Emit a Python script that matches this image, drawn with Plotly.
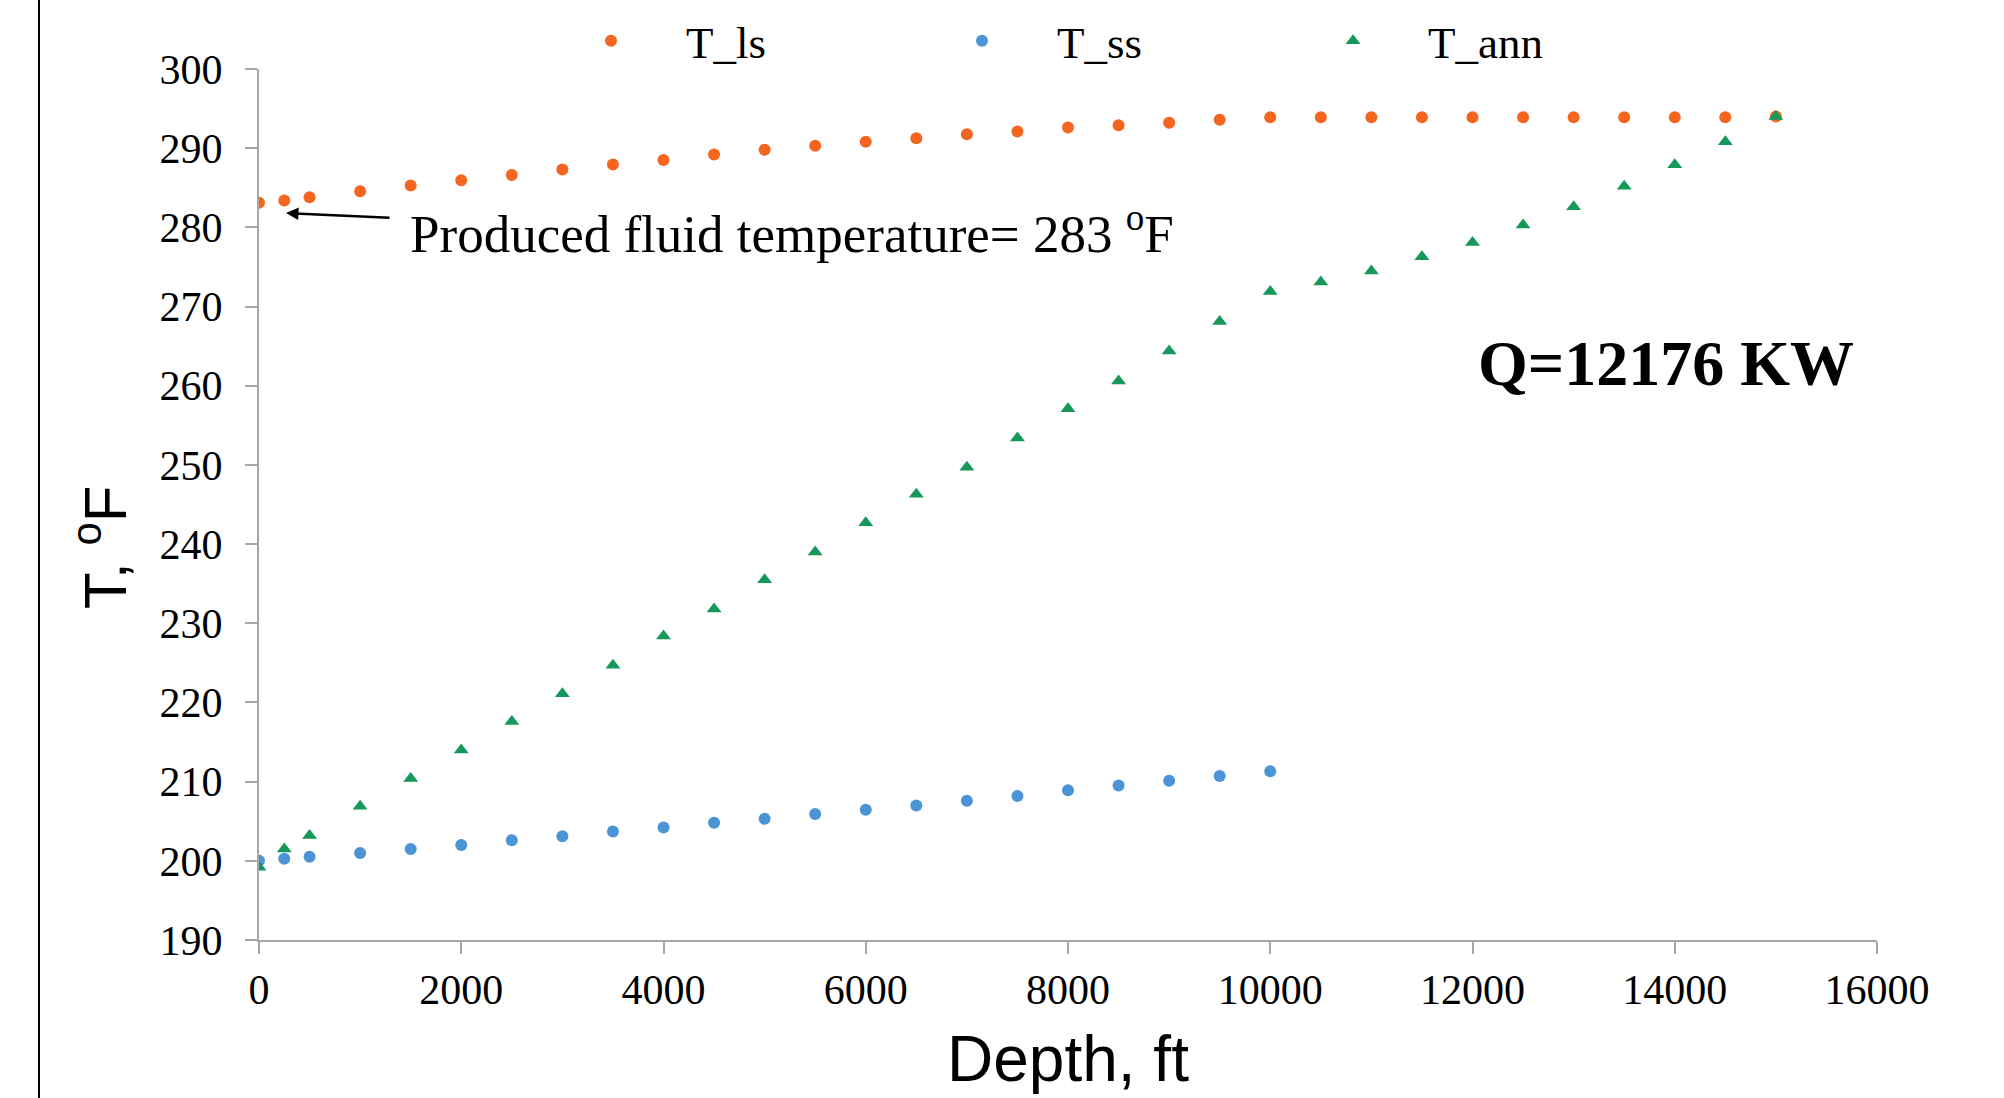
import plotly.graph_objects as go

# ---------------- data ----------------
depth_ls = [0, 250, 500, 1000, 1500, 2000, 2500, 3000, 3500, 4000, 4500, 5000, 5500, 6000,
            6500, 7000, 7500, 8000, 8500, 9000, 9500, 10000, 10500, 11000, 11500, 12000,
            12500, 13000, 13500, 14000, 14500, 15000]
T_ls = [283.1, 283.4, 283.8, 284.55, 285.3, 285.95, 286.6, 287.3, 287.95, 288.5, 289.2, 289.8,
        290.3, 290.8, 291.25, 291.75, 292.1, 292.6, 292.9, 293.2, 293.6, 293.9, 293.9, 293.9,
        293.9, 293.9, 293.9, 293.9, 293.9, 293.9, 293.9, 294.0]

depth_ss = [0, 250, 500, 1000, 1500, 2000, 2500, 3000, 3500, 4000, 4500, 5000, 5500, 6000,
            6500, 7000, 7500, 8000, 8500, 9000, 9500, 10000]
T_ss = [200.0, 200.25, 200.5, 201.0, 201.5, 202.0, 202.6, 203.1, 203.7, 204.2, 204.8, 205.3,
        205.9, 206.45, 207.0, 207.6, 208.2, 208.9, 209.5, 210.1, 210.7, 211.3]

depth_ann = depth_ls
T_ann = [199.2, 201.5, 203.2, 206.9, 210.4, 214.0, 217.6, 221.1, 224.7, 228.4, 231.8, 235.5,
         239.0, 242.7, 246.3, 249.7, 253.4, 257.1, 260.6, 264.4, 268.1, 271.9, 273.1, 274.5,
         276.3, 278.1, 280.3, 282.6, 285.2, 287.9, 290.8, 294.0]

x_ticks = [0, 2000, 4000, 6000, 8000, 10000, 12000, 14000, 16000]
y_ticks = [190, 200, 210, 220, 230, 240, 250, 260, 270, 280, 290, 300]

SERIF = "Liberation Serif, Times New Roman, serif"
SANS = "Liberation Sans, Arial, sans-serif"
ORANGE = "#F4661F"
BLUE = "#4B94D6"
GREEN = "#16985A"
AXIS_GRAY = "#A6A6A6"

fig = go.Figure()
fig.add_trace(go.Scatter(x=depth_ls, y=T_ls, mode="markers", name="T_ls",
                         marker=dict(symbol="circle", size=12, color=ORANGE)))
fig.add_trace(go.Scatter(x=depth_ss, y=T_ss, mode="markers", name="T_ss",
                         marker=dict(symbol="circle", size=12, color=BLUE)))
fig.add_trace(go.Scatter(x=depth_ann, y=T_ann, mode="markers", name="T_ann",
                         marker=dict(symbol="triangle-up", size=13, color=GREEN)))

axis_common = dict(showgrid=False, zeroline=False, showline=True, linecolor=AXIS_GRAY,
                   linewidth=2, ticks="outside", tickcolor=AXIS_GRAY, ticklen=12, tickwidth=2,
                   tickfont=dict(family=SERIF, size=42, color="black"))

fig.update_xaxes(range=[0, 16000], tickvals=x_ticks, ticktext=[str(v) for v in x_ticks],
                 ticklabelstandoff=0, **axis_common)
fig.update_yaxes(range=[190, 300], tickvals=y_ticks, ticktext=[str(v) for v in y_ticks],
                 ticklabelstandoff=14, **axis_common)

fig.update_layout(
    width=2004, height=1098,
    margin=dict(l=259, r=127, t=69, b=158, autoexpand=False),
    paper_bgcolor="white", plot_bgcolor="white",
    showlegend=True,
    legend=dict(orientation="h", x=0.1712, xanchor="left", y=1.0322, yanchor="middle",
                font=dict(family=SERIF, size=45, color="black"),
                itemwidth=140, entrywidth=216, bgcolor="rgba(0,0,0,0)"),
)

annotations = [
    # arrow
    dict(x=267, y=281.8, xref="x", yref="y", ax=1305, ay=281.2, axref="x", ayref="y",
         text="", showarrow=True, arrowhead=2, arrowsize=1, arrowwidth=2.5, arrowcolor="black"),
    dict(x=1473, y=279.7, xref="x", yref="y", xanchor="left", yanchor="middle",
         text="Produced fluid temperature= 283 <sup>o</sup>F", showarrow=False,
         font=dict(family=SERIF, size=53, color="black")),
    dict(x=13913, y=262.8, xref="x", yref="y", xanchor="center", yanchor="middle",
         text="<b>Q=12176 KW</b>", showarrow=False,
         font=dict(family=SERIF, size=64, color="black")),
    # axis titles
    dict(x=-0.0977, y=0.4512, xref="paper", yref="paper", xanchor="center", yanchor="middle",
         text="T, <sup>o</sup>F", textangle=-90, showarrow=False,
         font=dict(family=SANS, size=60, color="black")),
    dict(x=0.5, y=-0.137, xref="paper", yref="paper", xanchor="center", yanchor="middle",
         text="Depth, ft", showarrow=False,
         font=dict(family=SANS, size=64, color="black")),
]
fig.update_layout(annotations=annotations)

# left frame line of the original picture
fig.add_shape(type="line", xref="paper", yref="paper",
              x0=(39 - 259) / 1618, x1=(39 - 259) / 1618, y0=-0.2, y1=1.1,
              line=dict(color="black", width=2))

fig.write_html("out.html")
